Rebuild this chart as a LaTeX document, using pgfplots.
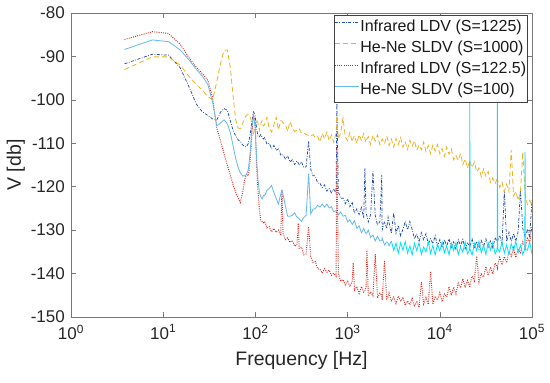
\documentclass[border=0pt]{standalone}
\usepackage{fontspec}
\setmainfont{Liberation Sans}
\usepackage{pgfplots}
\usepackage{pgfplotstable}
\pgfplotsset{compat=1.18}
\definecolor{cA}{RGB}{30,75,175}
\definecolor{cB}{RGB}{237,177,32}
\definecolor{cC}{RGB}{215,35,25}
\definecolor{cD}{RGB}{100,185,235}
\definecolor{cDh}{RGB}{0,225,250}
\definecolor{axgray}{RGB}{120,120,120}

\pgfplotstableread{
f A B C D
3.81 -91.7 -93.0 -86.1 -88.4
7.63 -89.5 -90.1 -84.3 -86.2
11.44 -89.7 -90.1 -84.7 -86.6
15.26 -92.6 -92.0 -87.2 -88.5
19.07 -97.0 -94.6 -90.3 -90.8
22.89 -101.0 -96.5 -92.5 -93.0
26.70 -102.8 -97.8 -94.0 -94.6
30.52 -103.6 -99.3 -95.5 -96.5
34.33 -104.4 -100.0 -99.5 -100.5
38.15 -104.6 -95.8 -106.5 -106.0
41.96 -102.8 -91.5 -109.5 -105.3
45.78 -102.0 -88.6 -112.5 -104.6
49.59 -102.4 -88.5 -115.0 -105.5
53.41 -104.8 -92.5 -117.3 -107.5
57.22 -107.0 -99.0 -119.5 -110.5
61.04 -108.3 -104.5 -121.3 -113.5
64.85 -109.2 -106.5 -122.5 -115.5
68.67 -109.6 -106.6 -123.6 -116.8
72.48 -110.3 -105.5 -121.5 -117.5
76.29 -110.8 -104.2 -118.5 -117.5
80.11 -110.8 -103.5 -117.0 -117.2
83.92 -110.0 -103.4 -117.5 -116.0
87.74 -108.0 -103.8 -114.0 -112.0
91.55 -105.0 -105.5 -108.0 -106.5
95.37 -102.8 -107.7 -103.5 -103.5
99.18 -103.5 -106.0 -105.0 -106.0
103.0 -106.5 -104.5 -115.0 -113.5
106.8 -108.5 -105.5 -121.0 -118.5
110.6 -108.5 -107.0 -125.5 -121.3
114.4 -108.0 -105.5 -127.7 -122.3
118.3 -108.6 -104.8 -128.0 -122.8
122.1 -109.0 -106.0 -128.3 -122.0
125.9 -108.7 -105.7 -128.0 -122.1
133.4 -110.2 -104.0 -129.5 -120.8
141.3 -110.0 -106.5 -129.2 -120.4
149.6 -111.2 -107.4 -130.4 -119.7
158.5 -110.5 -105.8 -129.6 -121.3
167.9 -111.6 -104.0 -130.5 -122.7
177.8 -111.3 -106.9 -130.0 -124.0
188.4 -112.7 -104.8 -131.2 -121.7
194.0 -112.5 -104.9 -120.8 -120.8
199.5 -112.7 -105.3 -130.8 -121.7
211.3 -113.6 -105.7 -132.2 -124.4
223.9 -112.9 -107.2 -131.8 -126.8
237.1 -114.3 -105.0 -132.8 -126.8
251.2 -113.8 -106.4 -132.4 -126.6
266.1 -114.9 -107.3 -133.7 -126.0
281.8 -114.1 -107.0 -133.4 -127.0
292.0 -114.6 -106.8 -128.4 -127.2
298.5 -114.9 -106.6 -134.2 -127.4
316.2 -114.3 -107.7 -133.9 -128.0
335.0 -115.6 -107.6 -135.7 -127.1
354.8 -115.4 -108.0 -135.5 -126.6
378.0 -109.5 -108.2 -129.2 -117.0
398.1 -116.0 -108.3 -136.1 -126.3
421.7 -117.5 -108.0 -137.4 -125.2
446.7 -117.5 -108.7 -137.2 -125.0
473.2 -119.2 -108.4 -138.9 -124.3
501.2 -119.2 -109.7 -139.0 -124.7
530.9 -120.2 -107.7 -139.9 -124.0
562.3 -119.6 -109.0 -138.9 -124.7
595.7 -121.0 -107.4 -139.7 -124.0
631.0 -120.4 -109.4 -139.2 -124.9
668.3 -121.4 -108.1 -140.4 -124.6
707.9 -120.6 -109.8 -139.9 -125.8
749.9 -121.5 -107.6 -140.6 -125.5
765.0 -100.8 -103.5 -111.0 -125.7
794.3 -121.2 -109.0 -140.0 -126.5
841.4 -122.7 -107.6 -141.7 -125.8
891.3 -122.6 -104.2 -141.4 -126.8
944.1 -123.9 -108.5 -142.6 -126.6
1000 -122.8 -109.4 -141.6 -128.1
1059 -124.6 -107.5 -143.0 -127.6
1122 -123.5 -109.7 -141.9 -128.7
1150 -124.8 -108.8 -137.5 -128.4
1189 -126.1 -108.2 -143.8 -127.8
1259 -125.1 -110.0 -143.0 -129.6
1334 -126.4 -108.0 -144.6 -129.0
1413 -124.8 -109.4 -143.0 -130.6
1496 -127.3 -107.8 -144.3 -129.6
1540 -115.8 -108.9 -144.0 -130.3
1585 -126.0 -109.8 -143.2 -130.8
1620 -126.7 -109.0 -134.6 -130.6
1679 -128.1 -108.5 -145.2 -130.0
1778 -126.4 -110.3 -144.2 -131.7
1884 -116.5 -108.1 -145.1 -131.1
1995 -126.6 -109.5 -135.5 -132.5
2113 -128.9 -108.1 -145.6 -131.4
2239 -128.0 -110.3 -144.5 -132.5
2350 -117.3 -109.3 -145.0 -132.4
2371 -129.9 -109.0 -146.1 -131.8
2512 -128.0 -110.1 -137.0 -133.4
2661 -129.6 -108.3 -145.8 -132.7
2750 -127.0 -109.5 -145.4 -133.0
2818 -128.3 -110.5 -144.5 -133.6
2985 -130.7 -109.0 -146.4 -132.5
3162 -126.0 -110.9 -145.4 -134.7
3350 -130.7 -108.9 -146.9 -133.0
3548 -128.9 -110.3 -145.2 -135.3
3758 -131.3 -108.7 -146.4 -132.9
3981 -129.8 -110.9 -145.4 -134.6
4217 -128.0 -109.6 -147.3 -132.6
4467 -129.9 -111.4 -146.3 -135.3
4732 -128.0 -109.3 -147.2 -133.6
5012 -129.8 -110.7 -145.7 -135.7
5309 -132.0 -109.4 -147.6 -133.0
5623 -130.8 -111.6 -146.3 -134.7
5957 -132.7 -110.4 -147.8 -132.9
6310 -130.6 -111.5 -142.0 -135.6
6683 -132.2 -109.7 -147.0 -133.9
7079 -130.8 -111.9 -145.5 -135.0
7499 -133.2 -110.5 -147.1 -132.7
7943 -132.0 -112.4 -139.5 -135.4
8414 -133.1 -110.4 -147.1 -133.5
8913 -131.3 -111.8 -145.2 -135.7
9441 -133.7 -110.3 -146.1 -133.2
10000 -132.2 -112.4 -144.4 -134.8
10593 -134.1 -111.2 -146.5 -132.7
11220 -132.2 -113.0 -144.7 -135.2
11885 -133.7 -110.9 -145.4 -133.6
12589 -132.0 -112.5 -143.0 -135.7
13335 -134.0 -111.3 -145.0 -133.0
14125 -132.7 -113.8 -143.1 -134.7
14962 -134.4 -112.8 -144.7 -132.9
15849 -132.2 -114.0 -142.2 -135.6
16788 -133.6 -112.4 -143.3 -133.9
17783 -132.1 -114.9 -141.2 -135.1
18836 -134.3 -113.6 -143.2 -132.7
19953 -133.0 -115.7 -141.6 -135.4
21000 -133.6 -114.3 -142.8 -134.6
21135 -133.9 -114.0 -143.2 -98.0
21280 -133.7 -114.3 -142.5 -134.4
22387 -132.0 -115.6 -140.6 -135.7
23714 -134.2 -114.3 -141.7 -133.1
25119 -132.6 -116.6 -136.0 -134.7
26607 -134.4 -115.7 -141.9 -132.6
28184 -132.4 -117.7 -140.1 -135.2
29854 -133.7 -115.9 -140.8 -133.5
31623 -132.0 -117.6 -138.4 -135.6
33497 -133.9 -116.5 -140.4 -132.9
35481 -132.5 -119.0 -138.5 -134.6
37584 -134.1 -118.0 -140.1 -132.8
39811 -131.7 -119.3 -137.6 -135.5
41880 -132.6 -118.2 -138.4 -134.4
42170 -132.9 -117.7 -138.7 -98.0
42460 -132.4 -118.6 -138.0 -134.3
44668 -131.2 -120.2 -136.3 -135.0
47315 -133.3 -119.0 -138.0 -132.6
50119 -120.8 -121.1 -136.1 -135.3
53088 -132.6 -119.4 -137.5 -133.4
56234 -130.5 -121.1 -134.9 -135.6
59566 -132.6 -111.5 -136.0 -133.1
63096 -130.8 -122.1 -134.1 -134.7
66834 -132.5 -121.1 -136.3 -132.6
70795 -130.3 -123.1 -134.5 -135.2
74989 -120.8 -121.2 -135.2 -133.5
79433 -129.6 -112.0 -132.7 -135.6
83560 -131.3 -120.5 -133.8 -134.3
84140 -131.5 -121.7 -134.3 -112.0
84720 -131.2 -122.0 -134.0 -134.5
89125 -130.0 -124.1 -131.9 -134.6
94406 -131.5 -123.1 -132.8 -132.8
100000 -123.0 -124.2 -129.1 -135.5
}\spectra

\begin{document}
\begin{tikzpicture}
\begin{axis}[
  scale only axis, width=461pt, height=304pt,
  xmode=log, log basis x=10,
  xmin=1, xmax=100000, ymin=-150, ymax=-80,
  xtick={1,10,100,1000,10000,100000},
  xticklabels={10\textsuperscript{0},10\textsuperscript{1},10\textsuperscript{2},10\textsuperscript{3},10\textsuperscript{4},10\textsuperscript{5}},
  ytick={-150,-140,-130,-120,-110,-100,-90,-80},
  yticklabels={-150,-140,-130,-120,-110,-100,-90,-80},
  tick align=inside,
  major tick length=5pt, minor tick length=3pt,
  axis line style={axgray, line width=0.6pt},
  tick style={axgray, line width=0.5pt},
  tick label style={font=\fontsize{17}{17}\selectfont, text=black!85, inner sep=0.5pt},
  xticklabel style={yshift=-7pt},
  yticklabel style={xshift=-5.5pt},
  label style={font=\fontsize{19.5}{19.5}\selectfont, text=black!85},
  xlabel={Frequency [Hz]}, ylabel={V [db]},
  xlabel style={at={(axis description cs:0.5,-0.161)}, anchor=base},
  ylabel style={at={(axis description cs:-0.1085,0.5)}, anchor=base},
  legend cell align=left,
  legend image code/.code={\draw[#1] (0pt,4.5pt) -- (24pt,4.5pt);},
  legend style={at={(axis description cs:0.9913,0.9934)}, anchor=north east,
    draw=black!75, line width=0.5pt, fill=white,
    font=\fontsize{16}{16}\selectfont, text=black!90,
    inner xsep=0.5pt, inner ysep=1pt, row sep=0pt,
    nodes={inner xsep=1pt, inner ysep=2pt, text height=12.8pt, text depth=4.5pt}},
]
\coordinate (O) at (rel axis cs:0,0);
\addplot[cA, line width=0.75pt, dash pattern=on 3pt off 1.5pt on 0.8pt off 1.5pt] table[x=f,y=A]{\spectra};
\addlegendentry{Infrared LDV (S=1225)}
\addplot[cB, line width=0.8pt, dash pattern=on 5pt off 3pt] table[x=f,y=B]{\spectra};
\addlegendentry{He-Ne SLDV (S=1000)}
\addplot[cC, line width=0.95pt, dash pattern=on 0.9pt off 1.3pt] table[x=f,y=C]{\spectra};
\addlegendentry{Infrared LDV (S=122.5)\hspace{3.5pt}}
\addplot[cD, line width=0.8pt, skip coords between index={96}{1000}] table[x=f,y=D]{\spectra};
\addlegendentry{He-Ne SLDV (S=100)}
\addplot[cDh, line width=0.8pt, skip coords between index={0}{95}, forget plot] table[x=f,y=D]{\spectra};
\end{axis}
\pgfresetboundingbox
\path (O) ++(-71pt,-66pt) rectangle ++(550pt,383pt);
\end{tikzpicture}
\end{document}
